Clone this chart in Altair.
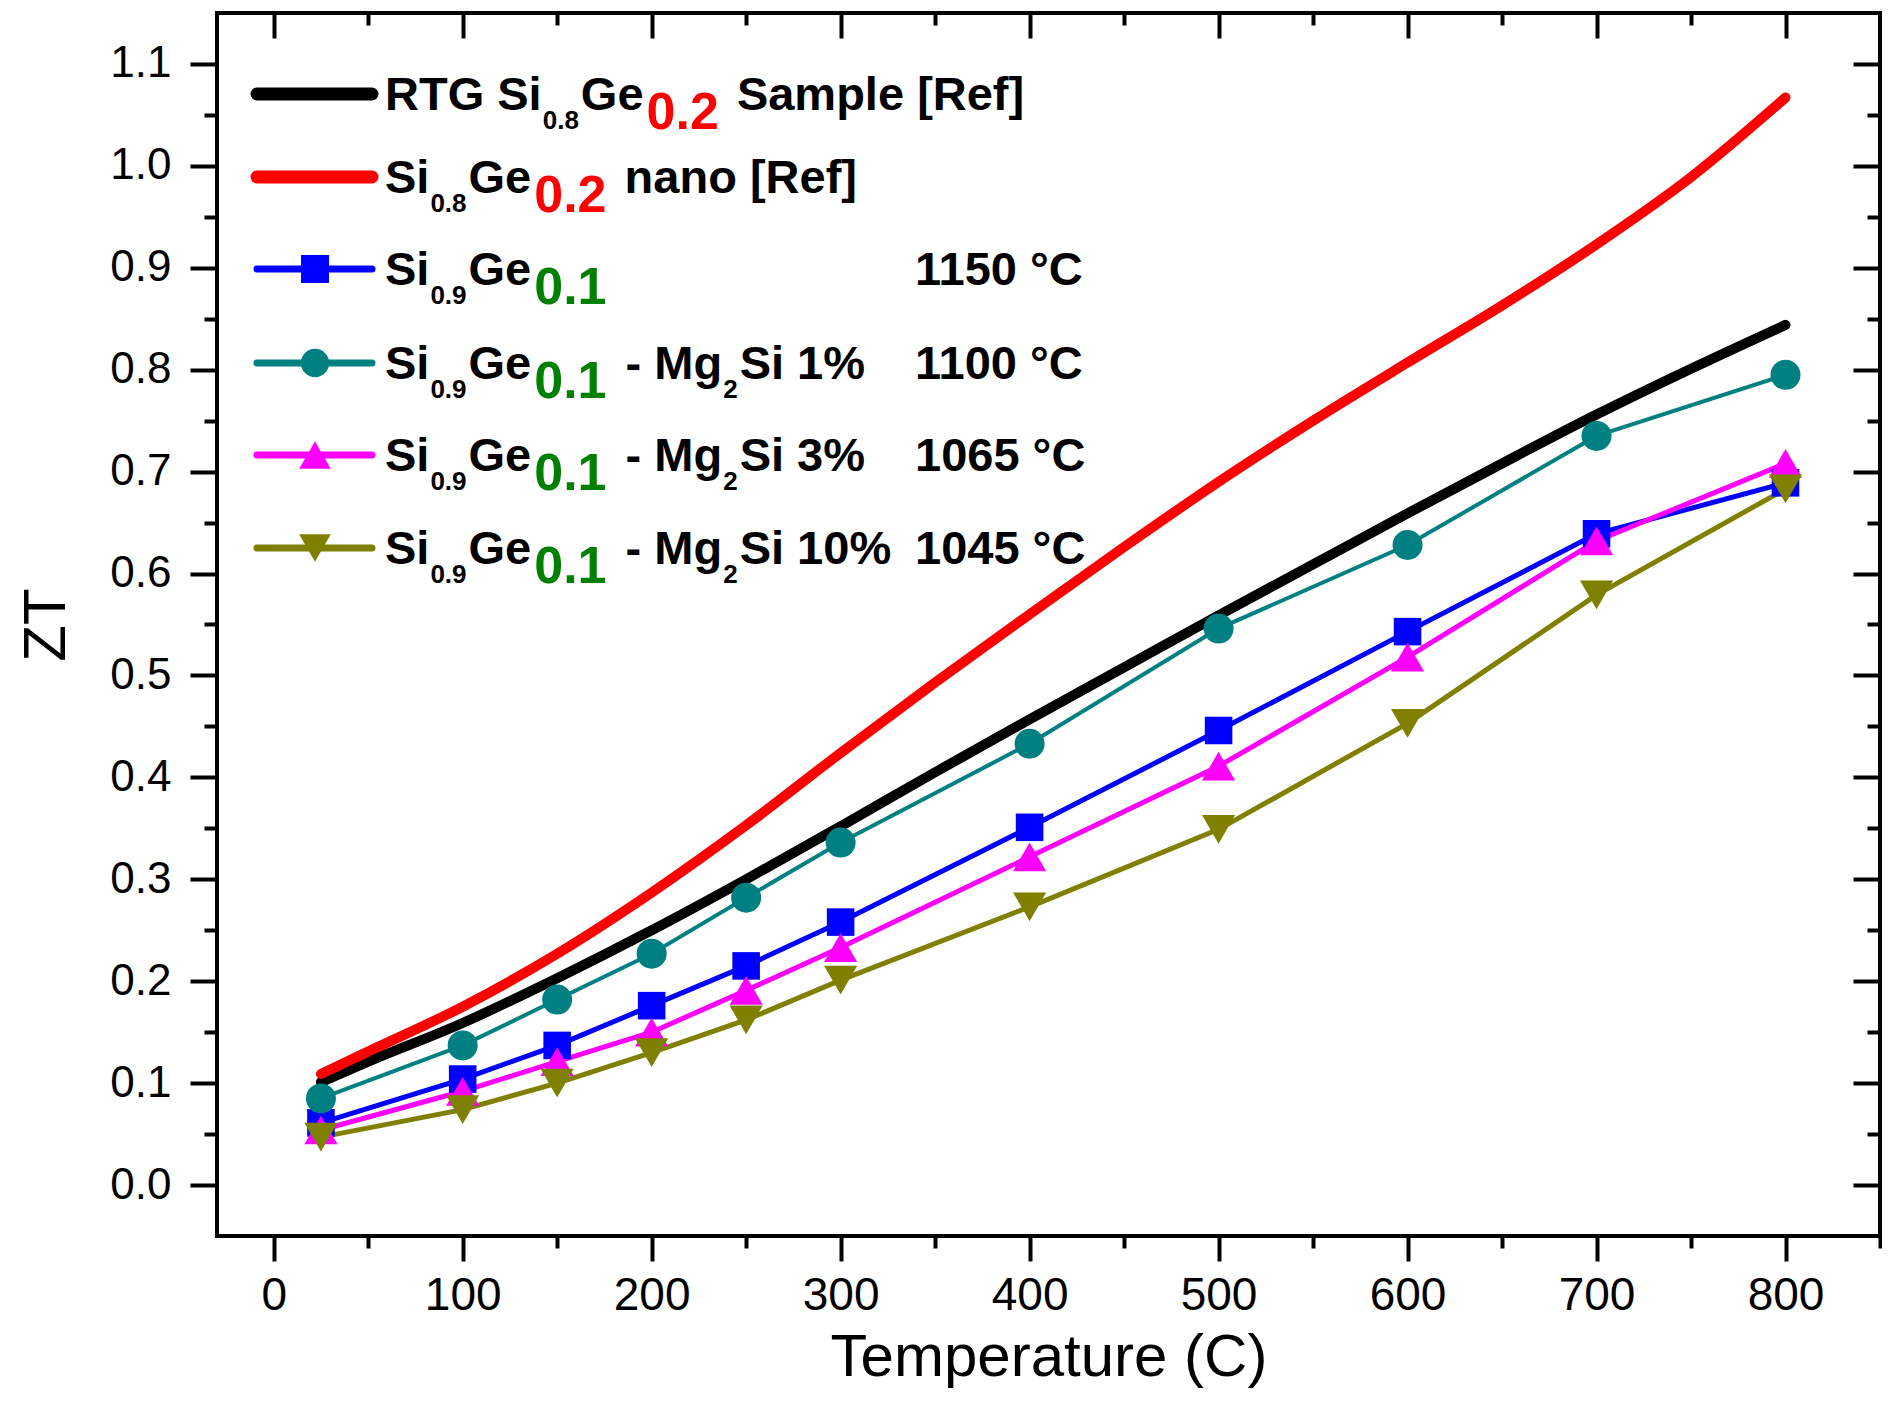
import altair as alt
import pandas as pd

# ---------------- data ----------------
T_SYM = [25, 100, 150, 200, 250, 300, 400, 500, 600, 700, 800]
ZT_SIGE = [0.061, 0.104, 0.137, 0.176, 0.215, 0.258, 0.351, 0.446, 0.543, 0.639, 0.689]
ZT_MG1 = [0.085, 0.137, 0.182, 0.227, 0.282, 0.336, 0.433, 0.546, 0.628, 0.735, 0.795]
ZT_MG3 = [0.054, 0.092, 0.121, 0.150, 0.191, 0.233, 0.322, 0.411, 0.518, 0.632, 0.708]
ZT_MG10 = [0.047, 0.074, 0.100, 0.130, 0.162, 0.201, 0.273, 0.349, 0.453, 0.579, 0.683]

T_REF = [25, 50, 100, 150, 200, 250, 300, 350, 400, 450, 500, 550, 600, 650, 700, 750, 800]
ZT_RTG = [0.101, 0.121, 0.159, 0.203, 0.250, 0.300, 0.352, 0.405, 0.457, 0.508, 0.559,
          0.609, 0.659, 0.708, 0.756, 0.801, 0.844]
ZT_NANO = [0.109, 0.131, 0.175, 0.227, 0.287, 0.353, 0.424, 0.493, 0.560, 0.626, 0.690,
           0.750, 0.807, 0.863, 0.923, 0.989, 1.067]

X_MAJOR = [0, 100, 200, 300, 400, 500, 600, 700, 800]
X_MINOR = [50, 150, 250, 350, 450, 550, 650, 750, 850]
Y_MAJOR = [round(i * 0.1, 2) for i in range(12)]
Y_MINOR = [round(0.05 + i * 0.1, 2) for i in range(11)]

TEMPS = ["1150 °C", "1100 °C", "1065 °C", "1045 °C"]

# ---------------- styling ----------------
FONT = "Liberation Sans, Arial, sans-serif"
BLACK, RED, BLUE, TEAL, MAGENTA, OLIVE, GREEN = (
    "#000000", "#ff0000", "#0000ff", "#008080", "#ff00ff", "#808000", "#008000")

W, H = 1663, 1223
XS = alt.Scale(domain=[-30, 850], nice=False, zero=False)
YS = alt.Scale(domain=[-0.05, 1.15], nice=False, zero=False)

df_sym = pd.DataFrame({"T": T_SYM, "a": ZT_SIGE, "b": ZT_MG1, "c": ZT_MG3, "d": ZT_MG10})
df_ref = pd.DataFrame({"T": T_REF, "rtg": ZT_RTG, "nano": ZT_NANO})


def xe(axis=None):
    return alt.X("T:Q", scale=XS, axis=axis)


def ye(field, axis=None):
    return alt.Y(f"{field}:Q", scale=YS, axis=axis)


def tick_axis(orient, values, size, labels=False, **kw):
    inward = orient in ("top", "right")
    args = dict(orient=orient, values=values, tickSize=size, tickWidth=4, tickColor=BLACK,
                domain=False, grid=False, labels=labels, labelFlush=False,
                labelFont=FONT, labelColor=BLACK, titleFont=FONT, titleColor=BLACK,
                titleFontWeight="normal", tickCap="butt")
    if inward:
        args["offset"] = -size
    if "title" not in kw:
        args["title"] = None
    args.update(kw)
    return alt.Axis(**args)


layers = []

# reference curves
layers.append(alt.Chart(df_ref).mark_line(color=BLACK, strokeWidth=10, strokeCap="round",
                                          interpolate="monotone")
              .encode(x=xe(), y=ye("rtg")))
layers.append(alt.Chart(df_ref).mark_line(color=RED, strokeWidth=10, strokeCap="round",
                                          interpolate="monotone")
              .encode(x=xe(), y=ye("nano")))

series = [("a", BLUE, "square", 760, 5),
          ("b", TEAL, "circle", 900, 4),
          ("c", MAGENTA, "triangle-up", 1100, 5),
          ("d", OLIVE, "triangle-down", 1100, 5)]
for f, col, shp, sz, sw in series:
    layers.append(alt.Chart(df_sym).mark_line(color=col, strokeWidth=sw)
                  .encode(x=xe(), y=ye(f)))
for f, col, shp, sz, sw in series:
    layers.append(alt.Chart(df_sym).mark_point(shape=shp, size=sz, filled=True, color=col,
                                               opacity=1)
                  .encode(x=xe(), y=ye(f)))

# axes carried by invisible helper layers
helper = alt.Chart(df_sym).mark_point(opacity=0)
layers.append(helper.encode(
    x=xe(tick_axis("bottom", X_MAJOR, 25, labels=True, labelFontSize=46, labelPadding=12,
                   format="d", title="Temperature (C)", titleFontSize=60, titlePadding=10)),
    y=ye("a", tick_axis("left", Y_MAJOR, 27, labels=True, labelFontSize=44, labelPadding=19,
                        format=".1f", title="ZT", titleFontSize=60, titlePadding=32))))
layers.append(helper.encode(x=xe(tick_axis("bottom", X_MINOR, 12)),
                            y=ye("a", tick_axis("left", Y_MINOR, 13))))
layers.append(helper.encode(x=xe(tick_axis("top", X_MAJOR, 25)),
                            y=ye("a", tick_axis("right", Y_MAJOR, 27))))
layers.append(helper.encode(x=xe(tick_axis("top", X_MINOR, 12)),
                            y=ye("a", tick_axis("right", Y_MINOR, 13))))

# ---------------- legend (rich text built from segments) ----------------
ARIAL_BOLD = {' ': 278, '%': 889, '-': 333, '.': 278, '[': 333, ']': 333, '°': 400,
              'C': 722, 'G': 778, 'M': 833, 'R': 722, 'S': 667, 'T': 611,
              'a': 556, 'e': 556, 'f': 333, 'g': 611, 'i': 278, 'l': 278, 'm': 889,
              'n': 611, 'o': 611, 'p': 611, 'r': 389, 's': 556, 't': 333, 'u': 611}


def text_w(s, size):
    return sum(ARIAL_BOLD.get(ch, 556) for ch in s) / 1000.0 * size


ROLE = {"main": (47, BLACK, 16), "sub": (26, BLACK, 35),
        "red": (52, RED, 35), "green": (52, GREEN, 35)}
GAP = {("main", "sub"): 1, ("sub", "main"): 2, ("main", "red"): 3, ("main", "green"): 3,
       ("red", "main"): 5, ("green", "main"): 6}

ROW_Y = [94, 177, 269, 363, 455, 548]          # page y of each legend row
OX, OY = 217, 13                               # plot-area origin on the page
TEXT_X0 = 385
TEMP_X = 915


def formula(prefix, num_role, tail):
    segs = prefix + [("0." + ("8" if num_role == "red" else "9"), "sub"), ("Ge", "main"),
                     ("0.2" if num_role == "red" else "0.1", num_role)]
    return segs + tail


ROWS = [
    formula([("RTG Si", "main")], "red", [(" Sample [Ref]", "main")]),
    formula([("Si", "main")], "red", [(" nano [Ref]", "main")]),
    formula([("Si", "main")], "green", []),
    formula([("Si", "main")], "green", [(" - Mg", "main"), ("2", "sub"), ("Si 1%", "main")]),
    formula([("Si", "main")], "green", [(" - Mg", "main"), ("2", "sub"), ("Si 3%", "main")]),
    formula([("Si", "main")], "green", [(" - Mg", "main"), ("2", "sub"), ("Si 10%", "main")]),
]

recs = []
for r, segs in enumerate(ROWS):
    x = TEXT_X0
    prev = None
    for txt, role in segs:
        size, col, dy = ROLE[role]
        if prev is not None:
            x += GAP.get((prev, role), 2)
        lead = len(txt) - len(txt.lstrip(" "))
        x += text_w(" " * lead, size)          # SVG drops leading blanks: advance instead
        txt = txt.lstrip(" ")
        recs.append({"px": x - OX, "py": ROW_Y[r] + dy - OY, "text": txt, "fs": size,
                     "col": col})
        x += text_w(txt, size)
        prev = role
    if r >= 2:
        recs.append({"px": TEMP_X - OX, "py": ROW_Y[r] + 16 - OY, "text": TEMPS[r - 2],
                     "fs": 47, "col": BLACK})
leg_text = pd.DataFrame(recs)

leg_lines = pd.DataFrame({
    "x1": [257 - OX] * 6, "x2": [372 - OX] * 6, "y": [v - OY for v in ROW_Y],
    "col": [BLACK, RED, BLUE, TEAL, MAGENTA, OLIVE], "sw": [13, 13, 7, 7, 7, 7]})
leg_marks = pd.DataFrame({
    "x": [315 - OX] * 4, "y": [v - OY for v in ROW_Y[2:]],
    "shape": ["square", "circle", "triangle-up", "triangle-down"],
    "col": [BLUE, TEAL, MAGENTA, OLIVE], "sz": [784, 800, 1000, 1000]})

layers.append(alt.Chart(leg_lines).mark_rule(strokeCap="round").encode(
    x=alt.X("x1:Q", scale=None, axis=None), x2="x2:Q",
    y=alt.Y("y:Q", scale=None, axis=None),
    color=alt.Color("col:N", scale=None),
    strokeWidth=alt.StrokeWidth("sw:Q", scale=None)))
layers.append(alt.Chart(leg_marks).mark_point(filled=True, opacity=1).encode(
    x=alt.X("x:Q", scale=None, axis=None), y=alt.Y("y:Q", scale=None, axis=None),
    shape=alt.Shape("shape:N", scale=None), color=alt.Color("col:N", scale=None),
    size=alt.Size("sz:Q", scale=None)))
layers.append(alt.Chart(leg_text).mark_text(align="left", baseline="alphabetic",
                                            fontWeight="bold", font=FONT).encode(
    x=alt.X("px:Q", scale=None, axis=None), y=alt.Y("py:Q", scale=None, axis=None),
    text="text:N", color=alt.Color("col:N", scale=None),
    size=alt.Size("fs:Q", scale=None)))

chart = alt.layer(*layers).resolve_axis(x="independent", y="independent").properties(
    width=W, height=H,
    autosize=alt.AutoSizeParams(type="none"),
    padding={"left": 209, "top": 5, "right": 2, "bottom": 160},
).configure(background="white").configure_view(stroke=BLACK, strokeWidth=4)

chart.save("out.html", embed_options={"renderer": "svg", "actions": False})
